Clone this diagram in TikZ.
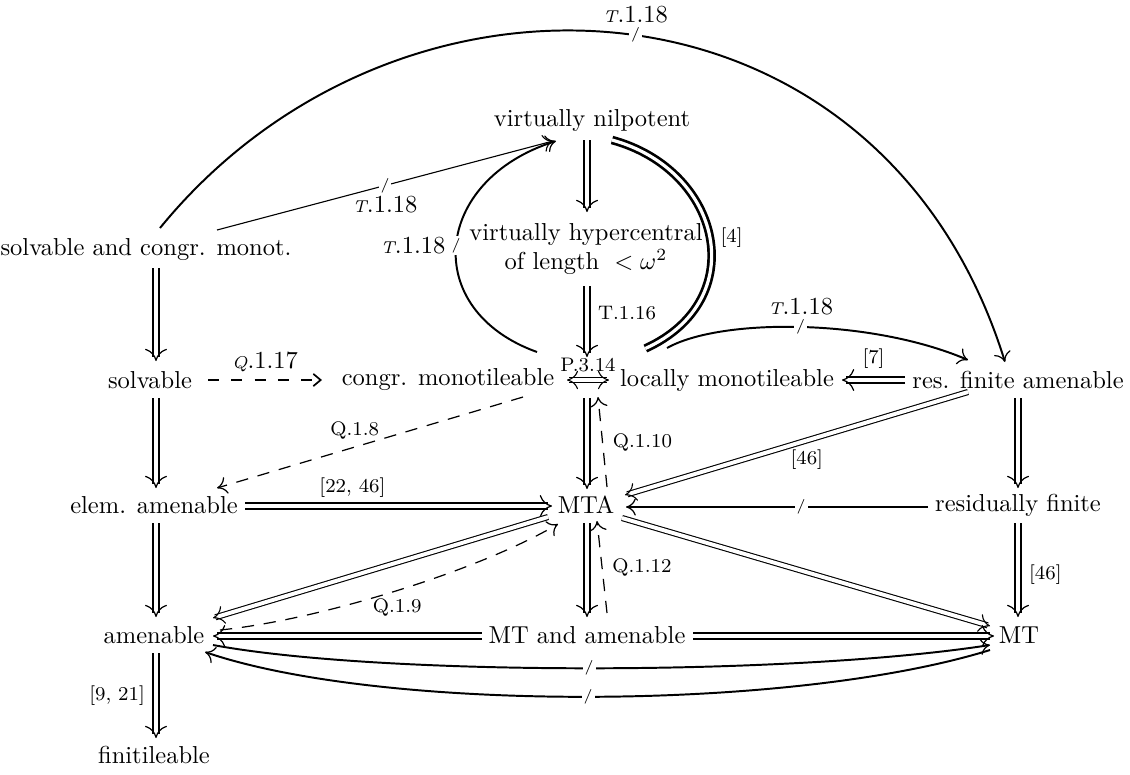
\documentclass[tikz,border=0pt]{standalone}
\usetikzlibrary{arrows.meta,decorations.markings}
\newcommand{\mynf}{\fontsize{10}{11.5}\selectfont}
\newcommand{\mysm}{\fontsize{8}{9}\selectfont}
\newcommand{\tcp}[1]{{\fontsize{7}{8}\selectfont\itshape #1}}
\tikzset{
  dbl/.style={double, line width=1.1pt, double distance=1.3pt, shorten >=1.5pt,
    postaction={decorate, decoration={markings, mark=at position 1 with {\arrow[line width=0.5pt]{Computer Modern Rightarrow[length=5pt,width=9pt]}}}}},
  tdbl/.style={double, line width=0.45pt, double distance=1.6pt, shorten >=1pt,
    postaction={decorate, decoration={markings, mark=at position 1 with {\arrow[line width=0.45pt]{Computer Modern Rightarrow[length=4.5pt,width=7.5pt]}}}}},
  tdblb/.style={double, line width=0.45pt, double distance=1.6pt, shorten >=1pt, shorten <=1pt,
    postaction={decorate, decoration={markings,
      mark=at position 0 with {\arrowreversed[line width=0.45pt]{Computer Modern Rightarrow[length=4.5pt,width=7.5pt]}},
      mark=at position 1 with {\arrow[line width=0.45pt]{Computer Modern Rightarrow[length=4.5pt,width=7.5pt]}}}}},
  sa/.style={line width=0.8pt, -{Computer Modern Rightarrow[length=4pt,width=7pt,line width=0.5pt]}},
  sat/.style={line width=0.45pt, -{Computer Modern Rightarrow[length=4pt,width=7pt,line width=0.45pt]}},
  da/.style={line width=0.5pt, dash pattern=on 5pt off 4pt, -{Computer Modern Rightarrow[length=4pt,width=7pt,line width=0.5pt]}},
  dab/.style={line width=0.8pt, dash pattern=on 4.5pt off 5pt, -{Straight Barb[length=3pt,width=5pt,line width=0.7pt]}},
  sl/.style={fill=white, inner sep=0.8pt, font=\fontsize{6}{7}\selectfont},
  lab/.style={font=\mysm},
}
\begin{document}
\begin{tikzpicture}[x=0.408pt,y=-0.408pt, every node/.style={inner sep=0pt,font=\mynf}]
\useasboundingbox (0,0) rectangle (1130,774);
% nodes
\node (vn) at (592,120) {virtually nilpotent};
\node[align=center] (vh) at (586,249) {virtually hypercentral\\of length\; $<\omega^2$};
\node (sc) at (146,250) {solvable and congr. monot.};
\node (so) at (150,380) {solvable};
\node (cm) at (448,380) {congr. monotileable};
\node (lm) at (727,380) {locally monotileable};
\node (rfa) at (1018,380) {res. finite amenable};
\node (ea) at (154,505) {elem. amenable};
\node (mta) at (586,505) {MTA};
\node (rf) at (1018,505) {residually finite};
\node (am) at (154,635) {amenable};
\node (mtam) at (587,635) {MT and amenable};
\node (mt) at (1019,635) {MT};
\node (fi) at (154,755) {finitileable};
\coordinate (pc) at (587,380);
% top arc
\draw[sa] ([shift={(14,-22)}]sc.center) .. controls (400,-66) and (880,-40) .. ([shift={(-13,-18)}]rfa.center)
  node[pos=.51,sl]{/} node[pos=.51,above=4.5pt]{\tcp{T}.1.18};
% sc -> vn
\draw[sat] ([shift={(71,-20)}]sc.center) -- ([shift={(-39,21)}]vn.center)
  node[pos=.5,sl]{/} node[pos=.5,below=4pt]{\tcp{T}.1.18};
% vn => vh
\draw[dbl] ([shift={(-5,20)}]vn.center) -- ([shift={(1,-37)}]vh.center);
% vh => pc
\draw[dbl] ([shift={(1,37)}]vh.center) -- ([shift={(0,-23)}]pc) node[pos=.38,right=4pt,lab]{T.1.16};
% cm -> vn (left curve)
\draw[sa] ([shift={(89,-28)}]cm.center) .. controls (420,310) and (432,180) .. ([shift={(-36,21)}]vn.center)
  node[pos=.5,sl]{/} node[pos=.5,left=4pt]{\tcp{T}.1.18};
% vn => lm (right curve)
\draw[dbl] ([shift={(20,20)}]vn.center) .. controls (722,170) and (752,300) .. ([shift={(-85,-30)}]lm.center)
  node[pos=.5,right=4pt,lab]{[4]};
% lm -> rfa
\draw[sa] ([shift={(-60,-32)}]lm.center) .. controls (720,318) and (870,318) .. ([shift={(-50,-20)}]rfa.center)
  node[pos=.5,sl]{/} node[pos=.5,above=4.5pt]{\tcp{T}.1.18};
% sc => so
\draw[dbl] ([shift={(10,18)}]sc.center) -- ([shift={(6,-19)}]so.center);
% so --> cm
\draw[dab] ([shift={(58,0)}]so.center) -- ([shift={(-126,0)}]cm.center) node[pos=.5,above=3pt]{\tcp{Q}.1.17};
% cm <=> lm
\draw[tdblb] ([shift={(119,0)}]cm.center) -- ([shift={(-118,0)}]lm.center) node[midway,above=3pt,lab]{P.3.14};
% rfa => lm
\draw[dbl] ([shift={(-113,0)}]rfa.center) -- ([shift={(115,0)}]lm.center) node[pos=.5,above=4pt,lab]{[7]};
% cm --> ea
\draw[da] ([shift={(75,17)}]cm.center) -- ([shift={(63,-17)}]ea.center) node[pos=.55,above=3pt,lab]{Q.1.8};
% pc => mta
\draw[dbl] ([shift={(0,18)}]pc) -- ([shift={(1,-16)}]mta.center);
% mta --> lm
\draw[da] ([shift={(21,-18)}]mta.center) -- ([shift={(-129,17)}]lm.center) node[pos=.5,right=4pt,lab]{Q.1.10};
% ea => mta
\draw[dbl] ([shift={(91,1)}]ea.center) -- ([shift={(-34,1)}]mta.center) node[pos=.35,above=3pt,lab]{[22, 46]};
% rfa => mta
\draw[tdbl] ([shift={(-50,12)}]rfa.center) -- ([shift={(39,-10)}]mta.center) node[pos=.47,below=3.5pt,lab]{[46]};
% rfa => rf
\draw[dbl] ([shift={(0,18)}]rfa.center) -- ([shift={(0,-17)}]rf.center);
% rf -> mta
\draw[sa] ([shift={(-90,2)}]rf.center) -- ([shift={(40,2)}]mta.center) node[pos=.42,sl]{/};
% so => ea
\draw[dbl] ([shift={(6,18)}]so.center) -- ([shift={(2,-17)}]ea.center);
% ea => am
\draw[dbl] ([shift={(2,18)}]ea.center) -- ([shift={(2,-18)}]am.center);
% am => fi
\draw[dbl] ([shift={(2,18)}]am.center) -- ([shift={(2,-17)}]fi.center) node[pos=.5,left=4pt,lab]{[9, 21]};
% rf => mt
\draw[dbl] ([shift={(0,18)}]rf.center) -- ([shift={(-1,-18)}]mt.center) node[pos=.55,right=4pt,lab]{[46]};
% mta => mtam
\draw[dbl] ([shift={(1,18)}]mta.center) -- ([shift={(0,-18)}]mtam.center);
% mtam --> mta
\draw[da] ([shift={(20,-22)}]mtam.center) -- ([shift={(11,16)}]mta.center) node[pos=.5,right=4pt,lab]{Q.1.12};
% mta => am
\draw[tdbl] ([shift={(-38,12)}]mta.center) -- ([shift={(59,-17)}]am.center);
% am --> mta
\draw[da] ([shift={(66,-5)}]am.center) .. controls (320,620) and (480,570) .. ([shift={(-28,19)}]mta.center)
  node[pos=.5,below=3pt,lab]{Q.1.9};
% mta => mt
\draw[tdbl] ([shift={(36,13)}]mta.center) -- ([shift={(-29,-9)}]mt.center);
% mtam => am
\draw[dbl] ([shift={(-105,1)}]mtam.center) -- ([shift={(59,1)}]am.center);
% mtam => mt
\draw[dbl] ([shift={(106,1)}]mtam.center) -- ([shift={(-25,1)}]mt.center);
% am -> mt (upper curve)
\draw[sa] ([shift={(59,10)}]am.center) .. controls (380,676) and (790,676) .. ([shift={(-29,10)}]mt.center)
  node[pos=.5,sl]{/};
% mt -> am (lower curve)
\draw[sa] ([shift={(-29,15)}]mt.center) .. controls (790,712) and (380,712) .. ([shift={(51,17)}]am.center)
  node[pos=.5,sl]{/};
\end{tikzpicture}
\end{document}
